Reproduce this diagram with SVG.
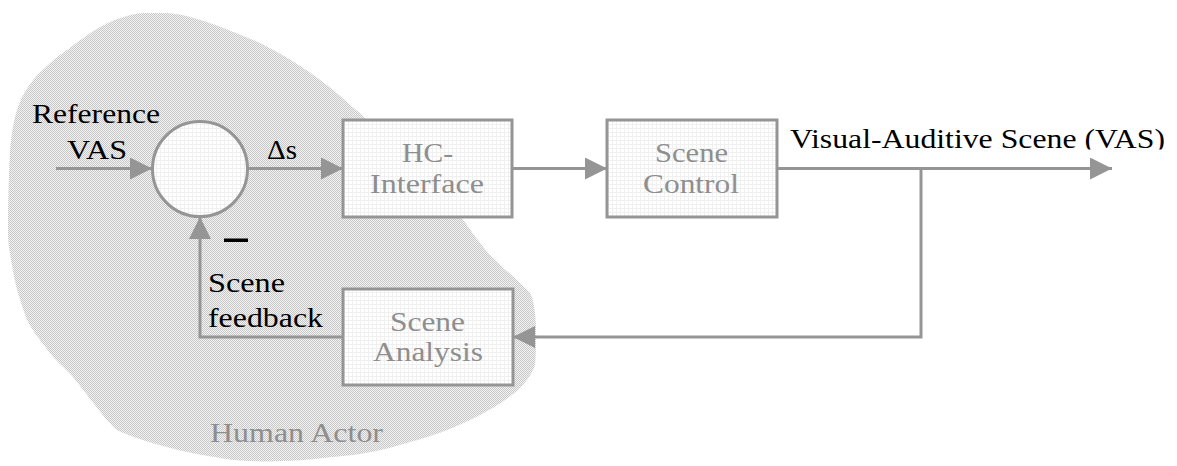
<svg xmlns="http://www.w3.org/2000/svg" width="1177" height="466" viewBox="0 0 1177 466">
  <style>
    .lbl { fill: #000000; }
    .gray { fill: #8e8e8e; }
    .box { fill: url(#grid); stroke: #959595; stroke-width: 3; }
    .conn { fill: none; stroke: #959595; stroke-width: 3; }
  </style>
  <defs>
    <pattern id="dither" width="2" height="2" patternUnits="userSpaceOnUse">
      <rect width="2" height="2" fill="#f2f2f2"/>
      <rect width="1" height="1" fill="#c8c8c8"/>
      <rect x="1" y="1" width="1" height="1" fill="#c8c8c8"/>
    </pattern>
    <pattern id="grid" width="4" height="4" patternUnits="userSpaceOnUse">
      <rect width="4" height="4" fill="#ffffff"/>
      <path d="M0 0.5 H4 M0.5 0 V4" stroke="#f0f0f0" stroke-width="1"/>
    </pattern>
    <marker id="arrow" markerWidth="22" markerHeight="22" refX="22" refY="11" orient="auto" markerUnits="userSpaceOnUse">
      <path d="M0,0 L22,11 L0,22 z" fill="#959595"/>
    </marker>
    <clipPath id="clipTop">
      <rect x="0" y="0" width="1177" height="149.5"/>
    </clipPath>
  </defs>

  <g font-family="'Liberation Serif', 'DejaVu Serif', serif" font-size="28">
  <g id="human-actor">
    <path d="M165,13 C190,14 220,26 260,43 C290,58 315,75 333,90 C345,100 352,107 360,113 C380,135 400,155 420,175 C440,195 455,210 465,222 C472,232 477,240 490,255 C505,270 520,282 530,293 C537,305 537,340 535,365 C528,385 510,400 470,420 C445,432 425,438 410,442 C385,450 360,455 333,457 C300,461 270,463 233,460 C200,455 185,452 167,447 C140,440 125,434 117,430 C110,425 95,405 73,377 C62,365 55,360 50,353 C40,340 32,330 27,320 C20,300 15,285 13,270 C9,250 8,240 8,233 C8,200 9,170 10,150 C12,130 14,120 17,110 C22,95 28,87 33,80 C45,67 55,58 67,50 C80,40 90,33 100,27 C115,19 130,14 143,13 Z" fill="url(#dither)"/>
    <text class="gray" x="296.5" y="442" text-anchor="middle" textLength="173" lengthAdjust="spacingAndGlyphs">Human Actor</text>
  </g>

  <g id="connectors">
    <line class="conn" x1="56" y1="168.5" x2="152" y2="168.5" marker-end="url(#arrow)"/>
    <line class="conn" x1="248" y1="168.5" x2="343" y2="168.5" marker-end="url(#arrow)"/>
    <line class="conn" x1="512" y1="168.5" x2="607" y2="168.5" marker-end="url(#arrow)"/>
    <line class="conn" x1="777" y1="168.5" x2="1112" y2="168.5" marker-end="url(#arrow)"/>
    <polyline class="conn" points="921,168.5 921,337 513,337" marker-end="url(#arrow)"/>
    <polyline class="conn" points="343,337 200,337 200,217" marker-end="url(#arrow)"/>
  </g>

  <g id="summing-junction">
    <circle cx="200" cy="169" r="47.5" fill="url(#grid)" stroke="#959595" stroke-width="3"/>
    <rect x="224" y="238.5" width="24" height="3.5" fill="#000000"/>
  </g>

  <g id="hc-interface">
    <rect class="box" x="343" y="120" width="169" height="97"/>
    <text class="gray" x="427.5" y="162" text-anchor="middle" textLength="51" lengthAdjust="spacingAndGlyphs">HC-</text>
    <text class="gray" x="427" y="193" text-anchor="middle" textLength="114" lengthAdjust="spacingAndGlyphs">Interface</text>
  </g>

  <g id="scene-control">
    <rect class="box" x="607" y="120" width="170" height="97"/>
    <text class="gray" x="691.5" y="162" text-anchor="middle" textLength="73" lengthAdjust="spacingAndGlyphs">Scene</text>
    <text class="gray" x="691" y="193" text-anchor="middle" textLength="96" lengthAdjust="spacingAndGlyphs">Control</text>
  </g>

  <g id="scene-analysis">
    <rect class="box" x="343" y="289" width="170" height="96"/>
    <text class="gray" x="427.5" y="331" text-anchor="middle" textLength="75" lengthAdjust="spacingAndGlyphs">Scene</text>
    <text class="gray" x="428" y="361" text-anchor="middle" textLength="110" lengthAdjust="spacingAndGlyphs">Analysis</text>
  </g>

  <g id="labels">
    <text class="lbl" x="96" y="123" text-anchor="middle" textLength="128" lengthAdjust="spacingAndGlyphs">Reference</text>
    <text class="lbl" x="97" y="159" text-anchor="middle" textLength="60" lengthAdjust="spacingAndGlyphs">VAS</text>
    <text class="lbl" x="282" y="159" text-anchor="middle" textLength="30" lengthAdjust="spacingAndGlyphs">Δs</text>
    <text class="lbl" x="790" y="148" textLength="375" lengthAdjust="spacingAndGlyphs" clip-path="url(#clipTop)">Visual-Auditive Scene (VAS)</text>
    <text class="lbl" x="208" y="292" textLength="77" lengthAdjust="spacingAndGlyphs">Scene</text>
    <text class="lbl" x="208" y="327" textLength="115" lengthAdjust="spacingAndGlyphs">feedback</text>
  </g>
  </g>
</svg>
